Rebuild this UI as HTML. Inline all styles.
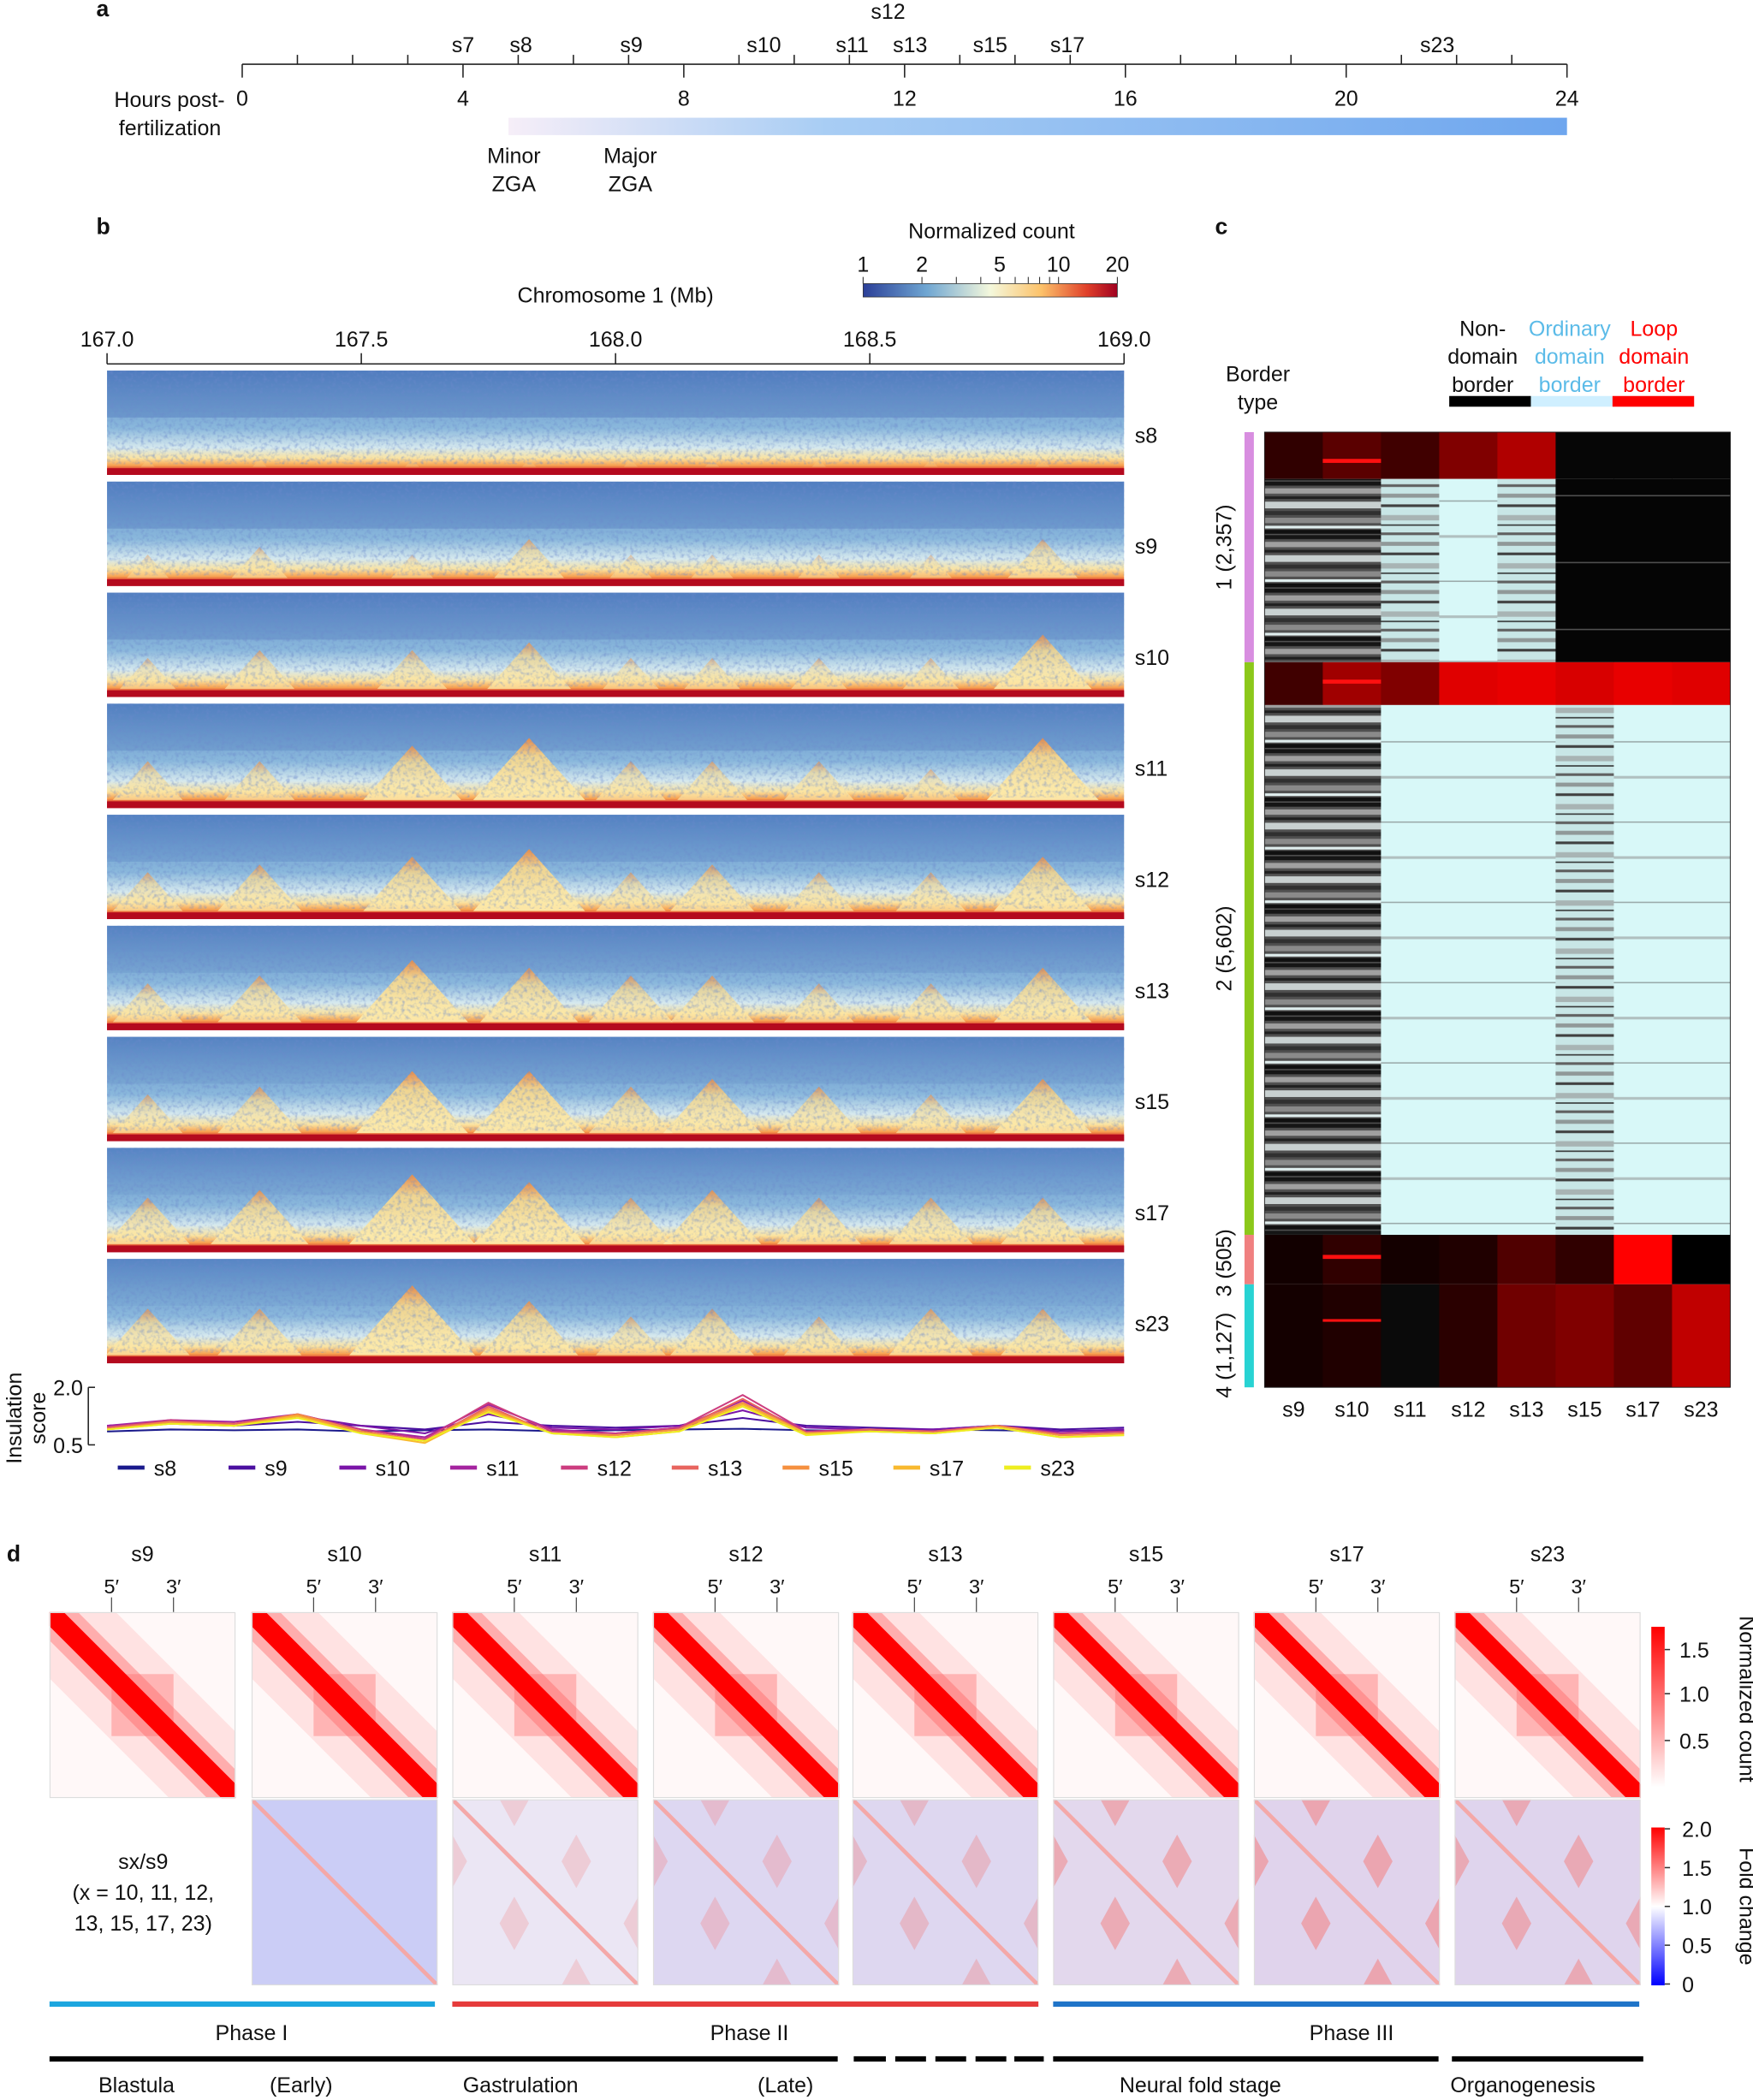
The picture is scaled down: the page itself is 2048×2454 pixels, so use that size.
<!DOCTYPE html>
<html><head><meta charset="utf-8"><style>
html,body{margin:0;padding:0;background:#fff}
svg{display:block}
text{font-family:"Liberation Sans",sans-serif;fill:#111}
</style></head><body>
<svg id="fig" width="2048" height="2454" viewBox="0 0 1310 1569.7" xmlns="http://www.w3.org/2000/svg">
<defs>
<linearGradient id="zga" x1="0" x2="1"><stop offset="0" stop-color="#f6eef8"/><stop offset="0.3" stop-color="#a8cdf4"/><stop offset="1" stop-color="#6ea6ee"/></linearGradient>
<linearGradient id="cnt" x1="0" x2="1"><stop offset="0" stop-color="#2b3f98"/><stop offset="0.25" stop-color="#6fa6d2"/><stop offset="0.5" stop-color="#f4f8dc"/><stop offset="0.7" stop-color="#fcc26a"/><stop offset="0.88" stop-color="#e0402a"/><stop offset="1" stop-color="#a00020"/></linearGradient>
<linearGradient id="hicbg" x1="0" y1="0" x2="0" y2="1"><stop offset="0" stop-color="#5a88c6"/><stop offset="0.55" stop-color="#8ab8dc"/><stop offset="0.74" stop-color="#d6e9ee"/><stop offset="0.84" stop-color="#fbe3a0"/><stop offset="0.91" stop-color="#f6a050"/><stop offset="0.95" stop-color="#d8302a"/><stop offset="1" stop-color="#b00020"/></linearGradient>
<linearGradient id="peak" x1="0" y1="0" x2="0" y2="1"><stop offset="0" stop-color="#f08a40"/><stop offset="0.3" stop-color="#fbd888"/><stop offset="1" stop-color="#fdeeb0"/></linearGradient>
<linearGradient id="ncbar" x1="0" y1="0" x2="0" y2="1"><stop offset="0" stop-color="#ff0000"/><stop offset="1" stop-color="#ffffff"/></linearGradient>
<linearGradient id="fcbar" x1="0" y1="0" x2="0" y2="1"><stop offset="0" stop-color="#ff0000"/><stop offset="0.5" stop-color="#ffffff"/><stop offset="1" stop-color="#0000ff"/></linearGradient>
<filter id="mottle" x="0" y="0" width="100%" height="100%">
<feTurbulence type="fractalNoise" baseFrequency="0.35" numOctaves="2" seed="3"/>
<feColorMatrix type="matrix" values="0 0 0 0 0.15  0 0 0 0 0.25  0 0 0 0 0.6  0 0 0 2.2 -1.0"/>
</filter>
<pattern id="pgray" width="10" height="40" patternUnits="userSpaceOnUse">
<rect width="10" height="40" fill="#505050"/><rect y="0" width="10" height="3" fill="#151515"/><rect y="5" width="10" height="4" fill="#a0a0a0"/><rect y="11" width="10" height="2" fill="#202020"/><rect y="15" width="10" height="5" fill="#c8d0d0"/><rect y="22" width="10" height="3" fill="#303030"/><rect y="27" width="10" height="4" fill="#8a8a8a"/><rect y="33" width="10" height="2" fill="#e0eeee"/><rect y="36" width="10" height="3" fill="#101010"/></pattern>
<pattern id="pmix" width="10" height="36" patternUnits="userSpaceOnUse">
<rect width="10" height="36" fill="#c8e6e6"/><rect y="2" width="10" height="2" fill="#606060"/><rect y="9" width="10" height="3" fill="#909898"/><rect y="17" width="10" height="2" fill="#404040"/><rect y="25" width="10" height="4" fill="#a8b4b4"/><rect y="32" width="10" height="1" fill="#303030"/></pattern>
<pattern id="plight" width="10" height="60" patternUnits="userSpaceOnUse">
<rect width="10" height="60" fill="#d8f8f8"/><rect y="14" width="10" height="1" fill="#9aaaaa"/><rect y="40" width="10" height="2" fill="#b0c0c0"/></pattern>
<pattern id="pblack" width="10" height="50" patternUnits="userSpaceOnUse">
<rect width="10" height="50" fill="#050505"/><rect y="20" width="10" height="1" fill="#505050"/></pattern>
</defs>
<g id="root"></g>
</svg>
<script>
// ---------- data ----------
const hourTicks = [0,4,8,12,16,20,24];
const stageNames = ['s7','s8','s9','s10','s11','s12','s13','s15','s17','s23'];
const stageHours = [4.0,5.05,7.05,9.45,11.05,11.7,12.1,13.55,14.95,21.65];
const hicStages = ['s8','s9','s10','s11','s12','s13','s15','s17','s23'];
const mbTicks = [167.0,167.5,168.0,168.5,169.0];
const borderMb = [167.08,167.3,167.6,167.83,168.03,168.19,168.4,168.62,168.84];
const borderStrength = [
 [0.1,0.1,0.1,0.1,0.1,0.1,0.1,0.1,0.1],
 [0.3,0.4,0.3,0.5,0.3,0.3,0.3,0.3,0.5],
 [0.4,0.5,0.5,0.6,0.4,0.4,0.4,0.4,0.7],
 [0.5,0.5,0.7,0.8,0.5,0.5,0.5,0.4,0.8],
 [0.5,0.6,0.7,0.8,0.5,0.6,0.5,0.5,0.7],
 [0.5,0.6,0.8,0.7,0.6,0.6,0.5,0.5,0.7],
 [0.5,0.6,0.8,0.8,0.6,0.7,0.6,0.5,0.7],
 [0.6,0.7,0.9,0.8,0.6,0.7,0.6,0.6,0.6],
 [0.6,0.6,0.9,0.7,0.5,0.6,0.5,0.6,0.6]];
const insX = [167.0,167.125,167.25,167.375,167.5,167.625,167.75,167.875,168.0,168.125,168.25,168.375,168.5,168.625,168.75,168.875,169.0];
const insVals = [
 [0.85,0.9,0.88,0.9,0.85,0.88,0.9,0.86,0.88,0.9,0.92,0.88,0.86,0.9,0.88,0.86,0.88],
 [1.0,1.05,1.0,1.1,1.0,0.9,1.1,1.0,0.95,1.0,1.2,1.0,0.95,0.9,1.0,0.9,0.95],
 [1.0,1.1,1.05,1.25,1.0,0.8,1.3,0.95,0.9,1.0,1.4,0.95,0.9,0.9,1.0,0.85,0.9],
 [1.0,1.15,1.1,1.3,0.9,0.7,1.55,0.9,0.8,0.95,1.65,0.85,0.9,0.85,1.0,0.8,0.85],
 [0.95,1.15,1.05,1.3,0.9,0.65,1.6,0.85,0.8,0.95,1.8,0.85,0.9,0.85,1.0,0.8,0.85],
 [0.95,1.1,1.05,1.25,0.85,0.6,1.5,0.8,0.75,0.9,1.7,0.8,0.9,0.85,1.0,0.75,0.8],
 [0.9,1.1,1.0,1.3,0.85,0.6,1.45,0.8,0.75,0.9,1.6,0.8,0.85,0.8,1.0,0.75,0.8],
 [0.9,1.05,1.0,1.25,0.8,0.55,1.4,0.8,0.7,0.85,1.55,0.8,0.85,0.8,0.95,0.7,0.75],
 [0.9,1.05,1.0,1.2,0.8,0.6,1.35,0.8,0.7,0.85,1.5,0.75,0.85,0.8,0.95,0.7,0.75]];
const insColors = ['#1a1a8c','#4b10a0','#7a15a8','#a4249f','#cc3d7f','#e8655f','#f59040','#f8b92f','#eeee20'];
const cCols = ['s9','s10','s11','s12','s13','s15','s17','s23'];
const cBands = [[323,358],[358,495],[495,527],[527,923],[923,960],[960,1037]];
const cFills = [
 ['#300000','#5a0000','#400000','#800000','#b00000','#060606','#060606','#060606'],
 ['url(#pgray)','url(#pgray)','url(#pmix)','url(#plight)','url(#pmix)','url(#pblack)','url(#pblack)','url(#pblack)'],
 ['#400000','#a00000','#800000','#e00000','#e80000','#d80000','#e80000','#e00000'],
 ['url(#pgray)','url(#pgray)','url(#plight)','url(#plight)','url(#plight)','url(#pmix)','url(#plight)','url(#plight)'],
 ['#120000','#300000','#140000','#200000','#500000','#300000','#ff0000','#000000'],
 ['#140000','#200000','#0a0a0a','#2a0000','#700000','#800000','#600000','#c00000']];
const dStages = ['s9','s10','s11','s12','s13','s15','s17','s23'];
const dFoldRed = [0,0,0.25,0.3,0.35,0.5,0.55,0.5];
const dFoldBlue = [0,0.55,0.15,0.35,0.35,0.3,0.35,0.35];

// ---------- helpers ----------
const NS='http://www.w3.org/2000/svg';
const root=document.getElementById('root');
function mk(tag,attrs,parent){const e=document.createElementNS(NS,tag);for(const k in attrs)e.setAttribute(k,attrs[k]);(parent||root).appendChild(e);return e;}
function txt(x,y,s,size,anchor,parent,extra){const e=mk('text',Object.assign({x:x,y:y,'font-size':size||16,'text-anchor':anchor||'middle'},extra||{}),parent);e.textContent=s;return e;}

// ---------- panel letters ----------
let e;
e=txt(72,12,'a',17,'start',null,{'font-weight':'bold'});


e=txt(72,175,'b',17,'start',null,{'font-weight':'bold'});


e=txt(908,175,'c',17,'start',null,{'font-weight':'bold'});


e=txt(5,1167,'d',17,'start',null,{'font-weight':'bold'});



// ---------- panel a ----------
const hx=h=>181+h*41.25;
const gA=mk('g',{});


mk('line',{x1:hx(0),x2:hx(24),y1:48,y2:48,stroke:'#222','stroke-width':1},gA);
for(let h=0;h<=24;h++){mk('line',{x1:hx(h),x2:hx(h),y1:48,y2:h%4===0?58:41,stroke:'#222','stroke-width':1},gA);}
hourTicks.forEach(h=>{const t=txt(hx(h),79,String(h),16,'middle',gA);

});
stageNames.forEach((s,i)=>{const t=txt(hx(stageHours[i]),s==='s12'?14:39,s,16,'middle',gA);

});
e=txt(168,80,'Hours post-',16,'end');


txt(127,101,'fertilization',16,'middle');
e=mk('rect',{x:380,y:88,width:791,height:13,fill:'url(#zga)'});


e=txt(384,122,'Minor',16);
txt(384,143,'ZGA',16);
e=txt(471,122,'Major',16);
txt(471,143,'ZGA',16);

// ---------- panel b ----------
const mx=m=>80+(m-167)*380;
e=txt(460,226,'Chromosome 1 (Mb)',16);


mk('line',{x1:80,x2:840,y1:272,y2:272,stroke:'#222'});
mbTicks.forEach(m=>{mk('line',{x1:mx(m),x2:mx(m),y1:264,y2:272,stroke:'#222'});
const t=txt(mx(m),259,m.toFixed(1),16);

});
e=txt(741,178,'Normalized count',16);


e=mk('rect',{x:645,y:212,width:190,height:10,fill:'url(#cnt)',stroke:'#333','stroke-width':0.5});


const lx=v=>645+Math.log10(v)/Math.log10(20)*190;
[1,2,3,4,5,6,7,8,9,10,20].forEach(v=>mk('line',{x1:lx(v),x2:lx(v),y1:207,y2:212,stroke:'#333','stroke-width':0.7}));
[1,2,5,10,20].forEach(v=>txt(lx(v),203,String(v),16));
hicStages.forEach((s,i)=>{
 const y0=277+i*83, h=78, yb=y0+h;
 const g=mk('g',{});
 
 
 mk('rect',{x:80,y:y0,width:760,height:h,fill:'url(#hicbg)'},g);
 mk('rect',{x:80,y:y0,width:760,height:h*0.45,fill:'#3a62b0',opacity:Math.max(0,0.3-i*0.03)},g);
 borderMb.forEach((b,j)=>{
  const st=borderStrength[i][j], ph=st*58, x=mx(b);
  const p=mk('polygon',{points:`${x},${yb-6-ph} ${x-ph*0.9},${yb-6} ${x+ph*0.9},${yb-6}`,fill:'url(#peak)',opacity:Math.min(0.9,st+0.1)},g);
  
  
 });
 mk('rect',{x:80,y:y0,width:760,height:h-8,filter:'url(#mottle)',opacity:0.55},g);
 mk('rect',{x:80,y:yb-5,width:760,height:5,fill:'#b40a1e'},g);
 const t=txt(848,yb-24,s,16,'start',g);
 
 
});
const iy=v=>1080-(v-0.5)/1.5*43;
e=txt(30,1060,'Insulation',16,'middle',null,{transform:'rotate(-90 30 1060)',dy:-14});


txt(30,1060,'score',16,'middle',null,{transform:'rotate(-90 30 1060)',dy:4});
mk('line',{x1:66,x2:66,y1:iy(2.0),y2:iy(0.5),stroke:'#222'});
[[2.0,'2.0'],[0.5,'0.5']].forEach(([v,l])=>{mk('line',{x1:66,x2:71,y1:iy(v),y2:iy(v),stroke:'#222'});txt(62,iy(v)+6,l,16,'end');});
insVals.forEach((arr,k)=>{
 const d=arr.map((v,j)=>(j?'L':'M')+mx(insX[j]).toFixed(1)+','+iy(v).toFixed(1)).join(' ');
 const p=mk('path',{d:d,fill:'none',stroke:insColors[k],'stroke-width':1.3,'stroke-linejoin':'round'});
 
 
});
hicStages.forEach((s,k)=>{
 const x=88+k*82.8;
 const g=mk('g',{});
 
 
 mk('line',{x1:x,x2:x+20,y1:1097,y2:1097,stroke:insColors[k],'stroke-width':3},g);
 txt(x+27,1103,s,16,'start',g);
});

// ---------- panel c ----------
const cx0=945, cw=43.5;
const gC=mk('g',{});


cBands.forEach((b,bi)=>{cCols.forEach((c,ci)=>{
 const r=mk('rect',{x:cx0+ci*cw,y:b[0],width:cw+0.3,height:b[1]-b[0],fill:cFills[bi][ci]},gC);
 
 
});});
mk('rect',{x:cx0+cw,y:343,width:cw,height:3,fill:'#ff1010'},gC);
mk('rect',{x:cx0+cw,y:508,width:cw,height:3,fill:'#ff1010'},gC);
mk('rect',{x:cx0+cw,y:938,width:cw,height:3,fill:'#ff1010'},gC);
mk('rect',{x:cx0+cw,y:986,width:cw,height:2,fill:'#ff1010'},gC);
mk('rect',{x:cx0,y:323,width:cw*8,height:714,fill:'none',stroke:'#222','stroke-width':0.6},gC);
cCols.forEach((c,ci)=>{const t=txt(cx0+ci*cw+cw/2,1059,c,16);

});
const groups=[[323,495,'#d88ee0','1 (2,357)',409],[495,923,'#8cc81a','2 (5,602)',709],[923,960,'#f08080','3 (505)',944],[960,1037,'#28d3d3','4 (1,127)',1013]];
groups.forEach(gr=>{
 const r=mk('rect',{x:930,y:gr[0],width:7,height:gr[1]-gr[0],fill:gr[2]});
 
 
 const m=gr[4];
 txt(920,m,gr[3],16,'middle',null,{transform:`rotate(-90 920 ${m})`});
});
e=txt(940,285,'Border',16);
txt(940,306,'type',16);
[[1108,'#000','#111',['Non-','domain','border']],[1173,'#cfefff','#5bbbe8',['Ordinary','domain','border']],[1236,'#ff0000','#ff0000',['Loop','domain','border']]].forEach(([x,bc,tc,ls],k)=>{
 const g=mk('g',{});
 
 
 ls.forEach((l,j)=>{const t=txt(x,251+j*21,l,16,'middle',g);t.style.fill=tc;});
 mk('rect',{x:1083+k*61,y:296,width:61,height:8,fill:bc},g);
});

// ---------- panel d ----------
const dx=[37,188,338,488,637,787,937,1087], S=139;
dStages.forEach((s,i)=>{
 const x=dx[i], y=1205;
 const g=mk('g',{});
 
 
 txt(x+S/2,1167,s,16,'middle',g);
 txt(x+S/3,1191,'5′',15,'middle',g);txt(x+2*S/3,1191,'3′',15,'middle',g);
 mk('line',{x1:x+S/3,x2:x+S/3,y1:1194,y2:1205,stroke:'#333','stroke-width':0.7},g);
 mk('line',{x1:x+2*S/3,x2:x+2*S/3,y1:1194,y2:1205,stroke:'#333','stroke-width':0.7},g);
 const v=mk('svg',{x:x,y:y,width:S,height:S,viewBox:`0 0 ${S} ${S}`},g);
 mk('rect',{x:0,y:0,width:S,height:S,fill:'#fff8f8'},v);
 mk('line',{x1:-10,y1:-10,x2:S+10,y2:S+10,stroke:'#ffb0b0','stroke-width':70,opacity:0.3},v);
 mk('rect',{x:S/3,y:S/3,width:S/3,height:S/3,fill:'#ff7070',opacity:0.4},v);
 mk('line',{x1:-10,y1:-10,x2:S+10,y2:S+10,stroke:'#ff6060','stroke-width':30,opacity:0.4},v);
 mk('line',{x1:-10,y1:-10,x2:S+10,y2:S+10,stroke:'#ff0000','stroke-width':15},v);
 mk('rect',{x:0,y:0,width:S,height:S,fill:'none',stroke:'#ddd','stroke-width':1.5},v);
 if(i>0){
  const y2=1345;
  const f=mk('svg',{x:x,y:y2,width:S,height:S,viewBox:`0 0 ${S} ${S}`},g);
  
  
  mk('rect',{x:0,y:0,width:S,height:S,fill:'#f6f6fc'},f);
  mk('rect',{x:0,y:0,width:S,height:S,fill:'#a8acf0',opacity:dFoldBlue[i]},f);
  const r=dFoldRed[i];
  [[1/3,2/3],[2/3,1/3],[0,1/3],[1/3,0],[2/3,1],[1,2/3]].forEach(([a,b])=>{
   const px=a*S, py=b*S, w=11, hh=20;
   mk('polygon',{points:`${px},${py-hh} ${px+w},${py} ${px},${py+hh} ${px-w},${py}`,fill:'#f27a7a',opacity:r},f);
  });
  mk('rect',{x:0,y:0,width:S,height:S,fill:'#ffa0a0',opacity:r*0.25},f);
  mk('line',{x1:0,y1:0,x2:S,y2:S,stroke:'#f4a8a8','stroke-width':3},f);
  mk('rect',{x:0,y:0,width:S,height:S,fill:'none',stroke:'#ddd','stroke-width':1.5},f);
 }
});
e=txt(107,1397,'sx/s9',16);
txt(107,1420,'(x = 10, 11, 12,',16);
txt(107,1443,'13, 15, 17, 23)',16);
e=mk('rect',{x:1234,y:1216,width:10,height:120,fill:'url(#ncbar)'});

[[1.5,1233],[1.0,1266],[0.5,1301]].forEach(([v,y])=>{mk('line',{x1:1244,x2:1248,y1:y,y2:y,stroke:'#333'});txt(1255,y+6,v.toFixed(1),16,'start');});
txt(1300,1270,'Normalized count',16,'middle',null,{transform:'rotate(90 1300 1270)'});
e=mk('rect',{x:1234,y:1366,width:10,height:118,fill:'url(#fcbar)'});

[[2.0,1367],[1.5,1396],[1.0,1425],[0.5,1454],[0,1483]].forEach(([v,y])=>{mk('line',{x1:1244,x2:1248,y1:y,y2:y,stroke:'#333'});txt(1257,y+6,v===0?'0':v.toFixed(1),16,'start');});
txt(1300,1425,'Fold change',16,'middle',null,{transform:'rotate(90 1300 1425)'});
[[37,325,'#1ca6df','Phase  I',188],[338,776,'#e63b3b','Phase  II',560],[787,1225,'#1f74c8','Phase  III',1010]].forEach(p=>{
 const g=mk('g',{});
 
 
 mk('rect',{x:p[0],y:1496,width:p[1]-p[0],height:4,fill:p[2]},g);
 txt(p[4],1525,p[3],16,'middle',g);
});
const blacks=[[37,626],[638,662],[669,692],[699,722],[729,752],[758,780],[787,1075],[1085,1228]];
blacks.forEach(b=>{const r=mk('rect',{x:b[0],y:1537,width:b[1]-b[0],height:4,fill:'#000'});

});
[['Blastula',102],['(Early)',225],['Gastrulation',389],['(Late)',587],['Neural fold stage',897],['Organogenesis',1138]].forEach(([l,x])=>{
 const t=txt(x,1564,l,16);
 
 
});
</script>
</body></html>
